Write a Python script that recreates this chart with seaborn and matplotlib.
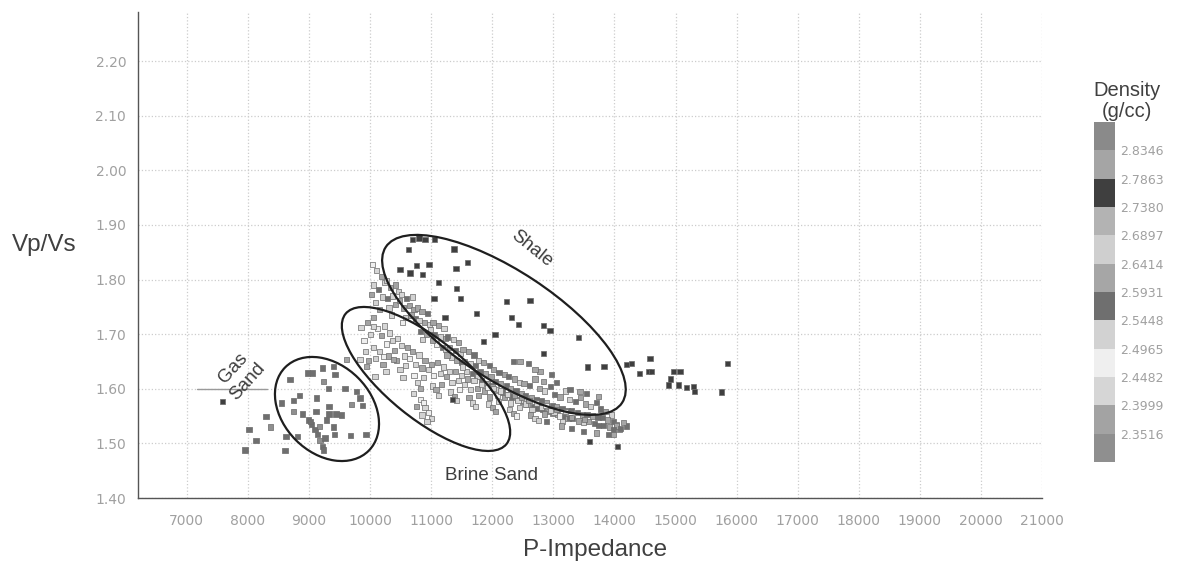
import numpy as np
import pandas as pd
import matplotlib
matplotlib.use("Agg")
import matplotlib as mpl
import matplotlib.pyplot as plt
import seaborn as sns
from matplotlib.patches import Ellipse
from matplotlib.transforms import Affine2D

# density classes of the colour bar (low -> high)
rho_edges = [2.3033, 2.3516, 2.3999, 2.4482, 2.4965, 2.5448, 2.5931,
             2.6414, 2.6897, 2.7380, 2.7863, 2.8346, 2.8829]
rho_ticks = rho_edges[1:-1]
rho_colors = ['#8f8f8f', '#a3a3a3', '#d6d6d6', '#efefef', '#d2d2d2', '#6f6f6f',
              '#a6a6a6', '#cfcfcf', '#b3b3b3', '#3f3f3f', '#a5a5a5', '#8a8a8a']

# gas sand cloud
gas_x = [7580, 8017, 8132, 7952, 8295, 8372, 8606, 8623, 8552, 8688,
         8742, 8840, 8742, 8814, 8978, 9060, 9224, 9397, 9425, 9233,
         9315, 9125, 9589, 9780, 9834, 9878, 9698, 9327, 9114, 9327,
         9441, 9535, 8890, 8988, 9043, 9098, 9137, 9180, 9224, 9233,
         9289, 9397, 9414, 9680, 9932, 9168, 9020, 9260]
gas_y = [1.576, 1.526, 1.505, 1.488, 1.549, 1.530, 1.487, 1.512, 1.574, 1.617,
         1.579, 1.587, 1.558, 1.512, 1.629, 1.629, 1.638, 1.641, 1.626, 1.613,
         1.601, 1.583, 1.601, 1.595, 1.583, 1.569, 1.571, 1.568, 1.558, 1.554,
         1.554, 1.552, 1.554, 1.543, 1.534, 1.525, 1.516, 1.506, 1.495, 1.488,
         1.543, 1.530, 1.516, 1.514, 1.516, 1.531, 1.540, 1.510]
gas_rho = [2.76, 2.57, 2.57, 2.57, 2.57, 2.33, 2.57, 2.57, 2.57, 2.57,
           2.57, 2.57, 2.33, 2.57, 2.57, 2.57, 2.57, 2.57, 2.57, 2.33,
           2.57, 2.57, 2.57, 2.57, 2.57, 2.57, 2.33, 2.57, 2.57, 2.57,
           2.57, 2.57, 2.57, 2.57, 2.57, 2.57, 2.57, 2.33, 2.57, 2.57,
           2.57, 2.57, 2.57, 2.57, 2.57, 2.33, 2.57, 2.57]

# main compaction trend (upper band)
trend_x = [10040, 10110, 10060, 10180, 10020, 10140, 10230, 10090, 10200, 10160,
           10270, 10330, 10410, 10290, 10370, 10460, 10310, 10420, 10480, 10350,
           10520, 10600, 10690, 10550, 10640, 10720, 10580, 10670, 10530, 10740,
           10770, 10850, 10940, 10800, 10890, 10970, 10820, 10920, 10990, 10860,
           11030, 11120, 11210, 11060, 11150, 11230, 11090, 11180, 11020, 11240,
           11270, 11360, 11450, 11300, 11400, 11480, 11330, 11420, 11260, 11490,
           11520, 11610, 11700, 11550, 11640, 11730, 11580, 11680, 11510, 11740,
           11770, 11860, 11950, 11800, 11890, 11980, 11820, 11920, 11760, 11990,
           12020, 12110, 12200, 12050, 12140, 12230, 12070, 12170, 12010, 12240,
           12270, 12360, 12450, 12300, 12390, 12480, 12320, 12420, 12260, 12490,
           12520, 12610, 12700, 12550, 12640, 12730, 12570, 12670, 12510, 12740,
           12770, 12860, 12950, 12800, 12890, 12980, 12820, 12920, 12760, 12990,
           13020, 13110, 13200, 13050, 13140, 13230, 13070, 13170, 13010, 13240,
           13270, 13360, 13450, 13300, 13390, 13480, 13320, 13420, 13260, 13490,
           13520, 13610, 13700, 13550, 13640, 13730, 13570, 13670, 13510, 13740,
           13770, 13860, 13950, 13800, 13890, 13980, 13820, 13920, 14030, 14080]
trend_y = [1.828, 1.816, 1.790, 1.805, 1.772, 1.782, 1.795, 1.758, 1.768, 1.745,
           1.798, 1.785, 1.790, 1.765, 1.770, 1.778, 1.748, 1.755, 1.762, 1.735,
           1.772, 1.765, 1.768, 1.748, 1.752, 1.745, 1.730, 1.735, 1.722, 1.728,
           1.748, 1.742, 1.738, 1.725, 1.722, 1.718, 1.705, 1.700, 1.708, 1.690,
           1.722, 1.716, 1.710, 1.700, 1.695, 1.692, 1.682, 1.676, 1.688, 1.672,
           1.695, 1.690, 1.685, 1.675, 1.670, 1.665, 1.658, 1.652, 1.662, 1.648,
           1.672, 1.668, 1.662, 1.650, 1.646, 1.642, 1.632, 1.628, 1.640, 1.625,
           1.652, 1.648, 1.643, 1.632, 1.628, 1.622, 1.615, 1.610, 1.622, 1.605,
           1.635, 1.630, 1.626, 1.614, 1.610, 1.605, 1.598, 1.594, 1.604, 1.590,
           1.622, 1.618, 1.612, 1.600, 1.596, 1.592, 1.585, 1.580, 1.590, 1.576,
           1.610, 1.606, 1.618, 1.588, 1.584, 1.580, 1.572, 1.568, 1.578, 1.564,
           1.600, 1.596, 1.604, 1.578, 1.574, 1.570, 1.562, 1.558, 1.566, 1.555,
           1.590, 1.585, 1.596, 1.568, 1.564, 1.560, 1.553, 1.549, 1.556, 1.545,
           1.580, 1.576, 1.584, 1.560, 1.556, 1.552, 1.545, 1.541, 1.548, 1.538,
           1.572, 1.568, 1.575, 1.553, 1.550, 1.547, 1.540, 1.536, 1.544, 1.533,
           1.563, 1.558, 1.552, 1.547, 1.543, 1.540, 1.533, 1.530, 1.535, 1.525]
trend_rho = [2.47, 2.42, 2.52, 2.62, 2.37, 2.57, 2.42, 2.52, 2.66, 2.62,
             2.52, 2.62, 2.37, 2.57, 2.42, 2.52, 2.66, 2.62, 2.62, 2.42,
             2.42, 2.57, 2.52, 2.62, 2.37, 2.37, 2.52, 2.62, 2.47, 2.57,
             2.62, 2.37, 2.57, 2.52, 2.62, 2.42, 2.57, 2.62, 2.52, 2.66,
             2.37, 2.62, 2.42, 2.57, 2.52, 2.62, 2.47, 2.57, 2.37, 2.52,
             2.57, 2.52, 2.62, 2.37, 2.57, 2.66, 2.52, 2.62, 2.62, 2.57,
             2.62, 2.37, 2.57, 2.62, 2.52, 2.57, 2.66, 2.57, 2.42, 2.62,
             2.52, 2.62, 2.57, 2.57, 2.62, 2.37, 2.57, 2.62, 2.52, 2.57,
             2.62, 2.57, 2.37, 2.57, 2.62, 2.57, 2.52, 2.57, 2.62, 2.66,
             2.57, 2.62, 2.52, 2.62, 2.57, 2.62, 2.57, 2.37, 2.57, 2.62,
             2.37, 2.57, 2.62, 2.57, 2.62, 2.57, 2.62, 2.57, 2.52, 2.57,
             2.62, 2.52, 2.57, 2.57, 2.62, 2.57, 2.57, 2.62, 2.57, 2.37,
             2.57, 2.62, 2.52, 2.62, 2.57, 2.57, 2.62, 2.57, 2.52, 2.62,
             2.52, 2.57, 2.62, 2.57, 2.57, 2.62, 2.57, 2.62, 2.57, 2.42,
             2.62, 2.52, 2.57, 2.57, 2.62, 2.57, 2.62, 2.57, 2.37, 2.57,
             2.57, 2.62, 2.52, 2.57, 2.62, 2.57, 2.57, 2.62, 2.37, 2.62]

# brine sand band (lower band)
brine_x = [9850, 9900, 9960, 9920, 10010, 10060, 9980, 10050, 10120, 10090,
           10180, 10240, 10160, 10270, 10210, 10320, 10300, 10370, 10260, 10400,
           10450, 10520, 10430, 10560, 10490, 10610, 10580, 10650, 10540, 10700,
           10740, 10800, 10720, 10850, 10780, 10900, 10880, 10950, 10820, 11000,
           11040, 11100, 11020, 11150, 11080, 11200, 11170, 11250, 11120, 11300,
           11340, 11400, 11320, 11450, 11380, 11500, 11470, 11550, 11420, 11600,
           11650, 11700, 11620, 11760, 11680, 11820, 11780, 11870, 11720, 11920,
           11960, 12020, 11940, 12080, 12000, 12140, 12100, 12200, 12050, 12250,
           12300, 12360, 12280, 12420, 12350, 12480, 12440, 12540, 12400, 12600,
           12650, 12720, 12630, 12800, 12700, 12880, 12850, 12950, 12760, 13050,
           13100, 13200, 13150, 13300, 10710, 10820, 10760, 10900, 10850, 10950,
           11010, 10930, 10880, 9615, 9834, 9943, 10080, 10052, 10215, 10380]
brine_y = [1.712, 1.688, 1.722, 1.668, 1.700, 1.730, 1.652, 1.676, 1.710, 1.655,
           1.698, 1.715, 1.668, 1.682, 1.645, 1.702, 1.660, 1.688, 1.632, 1.670,
           1.692, 1.680, 1.652, 1.660, 1.635, 1.675, 1.642, 1.655, 1.620, 1.668,
           1.645, 1.662, 1.625, 1.638, 1.612, 1.652, 1.620, 1.635, 1.600, 1.645,
           1.625, 1.648, 1.605, 1.628, 1.598, 1.640, 1.608, 1.622, 1.588, 1.632,
           1.612, 1.632, 1.594, 1.615, 1.585, 1.625, 1.598, 1.608, 1.578, 1.618,
           1.598, 1.615, 1.584, 1.600, 1.574, 1.608, 1.588, 1.596, 1.568, 1.602,
           1.585, 1.600, 1.572, 1.588, 1.565, 1.596, 1.576, 1.584, 1.558, 1.590,
           1.574, 1.588, 1.562, 1.578, 1.555, 1.584, 1.565, 1.572, 1.550, 1.578,
           1.562, 1.574, 1.552, 1.565, 1.546, 1.570, 1.554, 1.560, 1.542, 1.562,
           1.550, 1.558, 1.540, 1.548, 1.592, 1.580, 1.568, 1.565, 1.552, 1.556,
           1.546, 1.540, 1.575, 1.653, 1.653, 1.641, 1.623, 1.714, 1.659, 1.653]
brine_rho = [2.42, 2.47, 2.37, 2.52, 2.42, 2.62, 2.62, 2.42, 2.47, 2.52,
             2.37, 2.42, 2.52, 2.47, 2.37, 2.42, 2.62, 2.52, 2.42, 2.62,
             2.42, 2.52, 2.37, 2.42, 2.52, 2.37, 2.42, 2.47, 2.52, 2.62,
             2.52, 2.42, 2.47, 2.62, 2.42, 2.37, 2.52, 2.42, 2.62, 2.37,
             2.47, 2.37, 2.42, 2.52, 2.62, 2.42, 2.62, 2.37, 2.42, 2.52,
             2.42, 2.62, 2.52, 2.42, 2.37, 2.52, 2.47, 2.42, 2.52, 2.62,
             2.52, 2.42, 2.37, 2.37, 2.52, 2.42, 2.62, 2.62, 2.42, 2.47,
             2.62, 2.52, 2.42, 2.47, 2.62, 2.42, 2.52, 2.37, 2.37, 2.42,
             2.42, 2.37, 2.52, 2.42, 2.62, 2.37, 2.42, 2.52, 2.47, 2.62,
             2.52, 2.42, 2.62, 2.52, 2.42, 2.47, 2.62, 2.42, 2.52, 2.37,
             2.47, 2.52, 2.42, 2.37, 2.42, 2.47, 2.37, 2.42, 2.52, 2.47,
             2.42, 2.52, 2.47, 2.37, 2.42, 2.62, 2.52, 2.42, 2.47, 2.62]

# fringe points above / below the trend
fringe_x = [12344, 12453, 12590, 12781, 12972, 12834, 13272, 13436, 13545, 13736,
            12890, 13136, 13300, 13490, 13709, 13900, 12700, 13050]
fringe_y = [1.650, 1.650, 1.647, 1.632, 1.626, 1.613, 1.598, 1.595, 1.592, 1.586,
            1.540, 1.532, 1.528, 1.522, 1.519, 1.516, 1.636, 1.612]
fringe_rho = [2.57, 2.62, 2.57, 2.62, 2.57, 2.62, 2.57, 2.62, 2.57, 2.62,
              2.57, 2.62, 2.57, 2.57, 2.62, 2.57, 2.62, 2.57]

# dense shale points
shale_x = [10625, 11373, 11590, 10489, 10762, 10963, 10653, 10860, 11405, 11126,
           11415, 11481, 11045, 12233, 12617, 12316, 12426, 11746, 11225, 10700,
           10800, 10900, 11050, 12834, 12944, 13408, 12834, 13828, 11351, 11853,
           12045, 13560]
shale_y = [1.855, 1.856, 1.831, 1.818, 1.826, 1.828, 1.812, 1.810, 1.821, 1.794,
           1.783, 1.766, 1.765, 1.760, 1.761, 1.730, 1.717, 1.738, 1.730, 1.874,
           1.876, 1.874, 1.873, 1.716, 1.707, 1.694, 1.664, 1.641, 1.580, 1.687,
           1.699, 1.640]
shale_rho = [2.76, 2.76, 2.76, 2.76, 2.76, 2.76, 2.76, 2.76, 2.76, 2.76,
             2.76, 2.76, 2.76, 2.76, 2.76, 2.76, 2.76, 2.76, 2.76, 2.76,
             2.76, 2.76, 2.76, 2.76, 2.76, 2.76, 2.76, 2.76, 2.76, 2.76,
             2.76, 2.76]

# high impedance outliers
out_x = [14199, 14281, 14406, 14581, 14554, 14609, 14963, 15072, 14920, 14881,
         15045, 15182, 15291, 15308, 15755, 15848, 13588, 14052, 14199, 14036,
         13981, 13990, 14100, 14150]
out_y = [1.644, 1.647, 1.628, 1.655, 1.632, 1.632, 1.631, 1.632, 1.618, 1.607,
         1.607, 1.603, 1.604, 1.595, 1.594, 1.647, 1.503, 1.494, 1.532, 1.532,
         1.525, 1.516, 1.528, 1.538]
out_rho = [2.76, 2.76, 2.76, 2.76, 2.76, 2.76, 2.76, 2.76, 2.76, 2.76,
           2.76, 2.76, 2.76, 2.76, 2.76, 2.76, 2.76, 2.76, 2.57, 2.62,
           2.57, 2.62, 2.57, 2.62]

# zone outlines: centre x, centre y, width px, height px, angle
zones = {
    'gas': (9294, 1.563, 118, 88, -45),
    'brine': (10915, 1.618, 207, 79, -39),
    'shale': (12191, 1.717, 283, 108, -33.4),
}

df = pd.DataFrame({
    'imp': trend_x + brine_x + fringe_x + gas_x + shale_x + out_x,
    'vpvs': trend_y + brine_y + fringe_y + gas_y + shale_y + out_y,
    'rho': trend_rho + brine_rho + fringe_rho + gas_rho + shale_rho + out_rho,
})

sns.set_style("white")
plt.rcParams['font.family'] = ['Liberation Sans', 'DejaVu Sans']

W, H = 1187, 573
fig = plt.figure(figsize=(W / 100, H / 100), dpi=100)
ax = fig.add_axes([138 / W, 1 - 498 / H, 904 / W, 486 / H])

cmap = mpl.colors.ListedColormap(rho_colors)
norm = mpl.colors.Normalize(vmin=rho_edges[0], vmax=rho_edges[-1])

xmin, xmax, ymin, ymax = 6200, 21000, 1.40, 2.29
ax.set_xlim(xmin, xmax)
ax.set_ylim(ymin, ymax)

ax.set_xticks(np.arange(7000, 21001, 1000))
ax.set_yticks(np.arange(1.40, 2.201, 0.10))
ax.xaxis.set_minor_locator(mpl.ticker.MultipleLocator(200))
ax.yaxis.set_minor_locator(mpl.ticker.MultipleLocator(0.02))
ax.yaxis.set_major_formatter(mpl.ticker.FormatStrFormatter('%.2f'))
ax.tick_params(which='major', direction='inout', length=7, width=0.8, color='#666666',
               labelcolor='#a0a0a0', labelsize=10, labelfontfamily='DejaVu Sans')
ax.tick_params(which='minor', direction='inout', length=3, width=0.6, color='#777777')
ax.tick_params(axis='x', pad=8)
ax.tick_params(axis='y', pad=5)
ax.grid(True, which='major', color='#cccccc', linestyle=':', linewidth=0.9)
for side in ['top', 'right']:
    ax.spines[side].set_visible(False)
for side in ['left', 'bottom']:
    ax.spines[side].set_color('#555555')
    ax.spines[side].set_linewidth(1.0)

sns.scatterplot(data=df, x='imp', y='vpvs', hue='rho', palette=cmap, hue_norm=norm,
                marker='s', s=14, edgecolor='#6a6a6a', linewidth=0.5,
                legend=False, ax=ax, zorder=3)

# zone outlines drawn in screen-like units so the tilt looks right
bb = ax.get_window_extent()
kx = bb.width / (xmax - xmin)
ky = bb.height / (ymax - ymin)
tr = Affine2D().scale(1 / kx, 1 / ky) + ax.transData
for name, (cx, cy, w, h, ang) in zones.items():
    ax.add_patch(Ellipse((cx * kx, cy * ky), w, h, angle=ang, transform=tr,
                         fill=False, edgecolor='#1e1e1e', linewidth=1.6, zorder=4))

ax.plot([7170, 8310], [1.60, 1.60], color='#9a9a9a', linewidth=1.0, zorder=2)

txt = dict(color='#3c3c3c', fontsize=13.5, ha='center', va='center', zorder=5)
ax.text(12650, 1.857, 'Shale', rotation=-39, rotation_mode='anchor', **txt)
ax.text(11995, 1.442, 'Brine Sand', **txt)
ax.text(7878, 1.626, 'Gas\nSand', rotation=48, rotation_mode='anchor',
        multialignment='center', **txt)

ax.set_xlabel('P-Impedance', fontsize=17.5, color='#404040')
ax.set_ylabel('Vp/Vs', fontsize=17.5, color='#404040', rotation=0)
ax.xaxis.set_label_coords(0.5055, -0.107)
ax.yaxis.set_label_coords(-0.104, 0.52)
ax.xaxis.label.set_va('center')
ax.yaxis.label.set_va('center')
ax.yaxis.label.set_ha('center')

# density colour bar
cax = fig.add_axes([1094 / W, 1 - 462 / H, 21 / W, 340 / H])
sm = mpl.cm.ScalarMappable(norm=mpl.colors.BoundaryNorm(rho_edges, cmap.N), cmap=cmap)
cb = fig.colorbar(sm, cax=cax, ticks=rho_ticks, format='%.4f')
cb.minorticks_off()
cb.outline.set_visible(False)
cax.tick_params(which='both', length=0, labelsize=9, labelcolor='#a0a0a0', pad=4,
                labelfontfamily='DejaVu Sans')
fig.text(1127 / W, 1 - 101 / H, 'Density\n(g/cc)', ha='center', va='center',
         fontsize=14.5, color='#404040', linespacing=1.1)

fig.savefig('out.png', dpi=100)
